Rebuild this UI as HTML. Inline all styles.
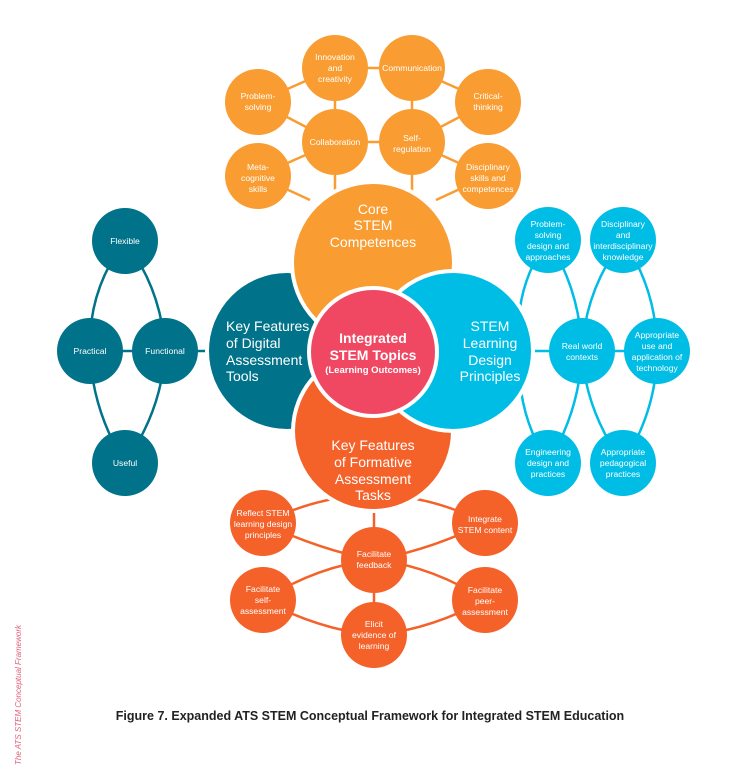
<!DOCTYPE html>
<html><head><meta charset="utf-8"><style>
html,body{margin:0;padding:0;background:#fff}
svg{display:block}
text{font-family:"Liberation Sans",sans-serif;fill:#fff;text-anchor:middle}
.s{font-size:8.6px}
.m{font-size:14px}
</style></head><body>
<svg width="735" height="781" viewBox="0 0 735 781" xmlns="http://www.w3.org/2000/svg">
<g fill="none" stroke-width="2.5">
<!-- orange lines -->
<g stroke="#F99D32">
<path d="M258 102 L335 68 L412 68 L488 102"/>
<path d="M258 102 L335 142 L412 142 L488 102"/>
<path d="M258 176 L335 142 M412 142 L488 176"/>
<path d="M335 68 V142 M412 68 V142 M335 142 V200 M412 142 V200"/>
<path d="M258 176 L310 200 M488 176 L436 200"/>
</g>
<!-- teal lines -->
<g stroke="#00728A">
<path d="M125 241 Q88 290 90 351 Q92 410 125 463"/>
<path d="M125 241 Q162 290 165 351 Q162 410 125 463"/>
<path d="M90 351 H215"/>
</g>
<!-- blue lines -->
<g stroke="#00BDE6">
<path d="M548 240 Q512 290 520 351 Q515 410 548 463"/>
<path d="M548 240 Q580 290 582 351 Q580 410 548 463"/>
<path d="M623 240 Q585 290 582 351 Q585 410 623 463"/>
<path d="M623 240 Q657 290 657 351 Q657 410 623 463"/>
<path d="M520 351 H657"/>
</g>
<!-- red lines -->
<g stroke="#F4622A">
<path d="M263 523 Q320 495 374 495 Q430 495 485 523"/>
<path d="M263 523 Q320 550 374 560 Q430 550 485 523"/>
<path d="M263 600 Q320 565 374 560 Q430 565 485 600"/>
<path d="M263 600 Q320 630 374 635 Q430 630 485 600"/>
<path d="M374 500 V635"/>
</g>
</g>
<!-- main circles -->
<g stroke="#fff" stroke-width="4">
<circle cx="287" cy="351" r="80" fill="#00728A"/>
<circle cx="373" cy="263" r="81" fill="#F99D32"/>
<circle cx="373" cy="431" r="80" fill="#F4622A"/>
<circle cx="453" cy="351" r="80" fill="#00BDE6"/>
<circle cx="373" cy="352" r="64" fill="#F04862"/>
</g>
<!-- small circles -->
<g fill="#F99D32">
<circle cx="335" cy="68" r="33"/><circle cx="412" cy="68" r="33"/>
<circle cx="258" cy="102" r="33"/><circle cx="488" cy="102" r="33"/>
<circle cx="335" cy="142" r="33"/><circle cx="412" cy="142" r="33"/>
<circle cx="258" cy="176" r="33"/><circle cx="488" cy="176" r="33"/>
</g>
<g fill="#00728A">
<circle cx="125" cy="241" r="33"/><circle cx="90" cy="351" r="33"/>
<circle cx="165" cy="351" r="33"/><circle cx="125" cy="463" r="33"/>
</g>
<g fill="#00BDE6">
<circle cx="548" cy="240" r="33"/><circle cx="623" cy="240" r="33"/>
<circle cx="582" cy="351" r="33"/><circle cx="657" cy="351" r="33"/>
<circle cx="548" cy="463" r="33"/><circle cx="623" cy="463" r="33"/>
</g>
<g fill="#F4622A">
<circle cx="263" cy="523" r="33"/><circle cx="485" cy="523" r="33"/>
<circle cx="374" cy="560" r="33"/><circle cx="263" cy="600" r="33"/>
<circle cx="485" cy="600" r="33"/><circle cx="374" cy="635" r="33"/>
</g>
<!-- small labels -->
<g class="s">
<text class="s" x="335" y="60">Innovation</text><text class="s" x="335" y="71">and</text><text class="s" x="335" y="82">creativity</text>
<text class="s" x="412" y="71">Communication</text>
<text class="s" x="258" y="99">Problem-</text><text class="s" x="258" y="110">solving</text>
<text class="s" x="488" y="99">Critical-</text><text class="s" x="488" y="110">thinking</text>
<text class="s" x="335" y="145">Collaboration</text>
<text class="s" x="412" y="141">Self-</text><text class="s" x="412" y="152">regulation</text>
<text class="s" x="258" y="170">Meta-</text><text class="s" x="258" y="181">cognitive</text><text class="s" x="258" y="192">skills</text>
<text class="s" x="488" y="170">Disciplinary</text><text class="s" x="488" y="181">skills and</text><text class="s" x="488" y="192">competences</text>
<text class="s" x="125" y="244">Flexible</text>
<text class="s" x="90" y="354">Practical</text>
<text class="s" x="165" y="354">Functional</text>
<text class="s" x="125" y="466">Useful</text>
<text class="s" x="548" y="227">Problem-</text><text class="s" x="548" y="238">solving</text><text class="s" x="548" y="249">design and</text><text class="s" x="548" y="260">approaches</text>
<text class="s" x="623" y="227">Disciplinary</text><text class="s" x="623" y="238">and</text><text class="s" x="623" y="249">interdisciplinary</text><text class="s" x="623" y="260">knowledge</text>
<text class="s" x="582" y="349">Real world</text><text class="s" x="582" y="360">contexts</text>
<text class="s" x="657" y="338">Appropriate</text><text class="s" x="657" y="349">use and</text><text class="s" x="657" y="360">application of</text><text class="s" x="657" y="371">technology</text>
<text class="s" x="548" y="455">Engineering</text><text class="s" x="548" y="466">design and</text><text class="s" x="548" y="477">practices</text>
<text class="s" x="623" y="455">Appropriate</text><text class="s" x="623" y="466">pedagogical</text><text class="s" x="623" y="477">practices</text>
<text class="s" x="263" y="516">Reflect STEM</text><text class="s" x="263" y="527">learning design</text><text class="s" x="263" y="538">principles</text>
<text class="s" x="485" y="522">Integrate</text><text class="s" x="485" y="533">STEM content</text>
<text class="s" x="374" y="557">Facilitate</text><text class="s" x="374" y="568">feedback</text>
<text class="s" x="263" y="592">Facilitate</text><text class="s" x="263" y="603">self-</text><text class="s" x="263" y="614">assessment</text>
<text class="s" x="485" y="593">Facilitate</text><text class="s" x="485" y="604">peer-</text><text class="s" x="485" y="615">assessment</text>
<text class="s" x="374" y="627">Elicit</text><text class="s" x="374" y="638">evidence of</text><text class="s" x="374" y="649">learning</text>
</g>
<!-- main labels -->
<text class="m" x="373" y="214">Core</text><text class="m" x="373" y="230">STEM</text><text class="m" x="373" y="247">Competences</text>
<g style="text-anchor:start"><text class="m" x="226" y="331" style="text-anchor:start">Key Features</text><text class="m" x="226" y="348" style="text-anchor:start">of Digital</text><text class="m" x="226" y="365" style="text-anchor:start">Assessment</text><text class="m" x="226" y="381" style="text-anchor:start">Tools</text></g>
<text class="m" x="490" y="331">STEM</text><text class="m" x="490" y="348">Learning</text><text class="m" x="490" y="365">Design</text><text class="m" x="490" y="381">Principles</text>
<text class="m" x="373" y="450">Key Features</text><text class="m" x="373" y="467">of Formative</text><text class="m" x="373" y="484">Assessment</text><text class="m" x="373" y="500">Tasks</text>
<text x="373" y="343" style="font-size:14px;font-weight:bold">Integrated</text>
<text x="373" y="360" style="font-size:14px;font-weight:bold">STEM Topics</text>
<text x="373" y="373" style="font-size:9.5px;font-weight:bold">(Learning Outcomes)</text>
<text x="370" y="720" style="fill:#222;font-size:12.5px;font-weight:bold">Figure 7. Expanded ATS STEM Conceptual Framework for Integrated STEM Education</text>
<text transform="translate(21 695) rotate(-90)" style="fill:#e0607a;font-size:8px;font-style:italic">The ATS STEM Conceptual Framework</text>
</svg>
</body></html>
